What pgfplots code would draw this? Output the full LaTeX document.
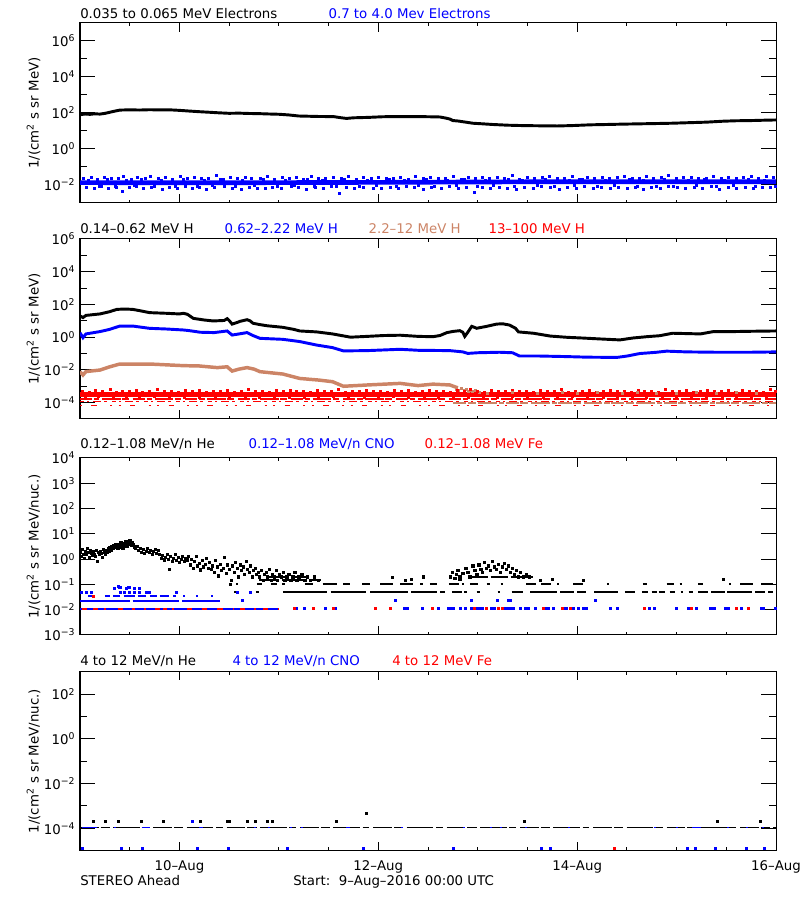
\documentclass[border=0pt]{standalone}
\usepackage{fontspec}
\setmainfont{DejaVu Sans}
\usepackage{pgfplots}
\pgfplotsset{compat=1.18}
\definecolor{hbrown}{RGB}{204,132,102}
\definecolor{iblue}{RGB}{0,0,255}
\definecolor{ired}{RGB}{255,0,0}
\newcommand{\tnn}[1]{10\textsuperscript{#1}}
\pgfplotsset{
  every axis/.append style={
    scale only axis, width=522pt,
    xmin=0, xmax=7,
    xtick={1,3,5,7}, minor xtick={0.5,1.5,2,2.5,3.5,4,4.5,5.5,6,6.5},
    tick align=inside,
    major tick length=11.25pt, minor tick length=5.5pt,
    tick style={black, line width=0.75pt},
    axis line style={line width=0.75pt},
    tick label style={font=\fontsize{10}{12}\selectfont},
    ylabel style={at={(axis description cs:-0.0668,0.5)}, rotate=0, anchor=center, font=\fontsize{10}{12}\selectfont},
    unbounded coords=jump,
  },
  sqdot/.style={only marks, mark=square*, mark size=0.75pt, mark options={draw=none}},
}
\begin{document}
\begin{tikzpicture}
\path[use as bounding box] (0,0) rectangle (600pt,675pt);
% ================= Panel 1
\begin{axis}[at={(60pt,522.75pt)}, anchor=south west, height=135pt,
  ymode=log, ymin=1e-3, ymax=1e7,
  ytick={1e-2,1,1e2,1e4,1e6}, yticklabels={\tnn{−2},\tnn{0},\tnn{2},\tnn{4},\tnn{6}},
  minor ytick={1e-1,1e1,1e3,1e5},
  xticklabels={,,,},
  ylabel={1/(cm\textsuperscript{2} s sr MeV)},
  xtick style={/pgfplots/major tick length=6.5pt,/pgfplots/minor tick length=2.5pt}]
\addplot[black, line width=2.2pt] coordinates {(0,80)(0.05,88)(0.1,84)(0.15,90)(0.2,87)(0.25,95)(0.3,110)(0.33,120)(0.4,145)(0.5,150)(0.6,146)(0.7,152)(0.8,148)(0.9,150)(1.0,140)(1.1,128)(1.2,118)(1.3,110)(1.4,102)(1.5,96)(1.6,98)(1.7,94)(1.8,92)(1.9,88)(2.0,85)(2.1,78)(2.2,68)(2.3,66)(2.4,64)(2.55,63)(2.62,55)(2.68,50)(2.75,54)(2.9,57)(3.05,62)(3.2,63)(3.35,63)(3.5,62)(3.62,60)(3.68,52)(3.72,46)(3.75,38)(3.8,36)(3.88,31)(3.95,27)(4.05,25)(4.15,23)(4.3,21)(4.45,20)(4.6,19.5)(4.8,19)(4.95,20)(5.13,22)(5.3,23)(5.45,24)(5.63,25)(5.8,26)(5.95,27)(6.13,29)(6.3,31)(6.47,35)(6.6,37)(6.75,38)(6.9,40)(7.0,41)};
\addplot[iblue, line width=3.5pt] coordinates {(0,0.0135)(1.5,0.0133)(3,0.0140)(4.5,0.0150)(6,0.0150)(7,0.0152)};
\addplot[sqdot, iblue] coordinates {(0.03,0.024)(0.11,0.026)(0.17,0.022)(0.24,0.028)(0.31,0.023)(0.38,0.025)(0.44,0.030)(0.52,0.022)(0.58,0.027)(0.66,0.024)(0.71,0.029)(0.79,0.023)(0.86,0.026)(0.93,0.022)(1.01,0.031)(1.08,0.024)(1.15,0.027)(1.22,0.023)(1.29,0.025)(1.37,0.034)(1.44,0.022)(1.51,0.026)(1.58,0.024)(1.66,0.028)(1.72,0.023)(1.81,0.025)(1.88,0.030)(1.95,0.022)(2.03,0.027)(2.10,0.024)(2.18,0.026)(2.25,0.022)(2.33,0.029)(2.40,0.025)(2.47,0.023)(2.55,0.027)(2.63,0.024)(2.70,0.031)(2.78,0.022)(2.85,0.026)(2.93,0.024)(3.00,0.028)(3.08,0.023)(3.15,0.025)(3.22,0.027)(3.30,0.022)(3.37,0.029)(3.45,0.024)(3.52,0.026)(3.60,0.023)(3.67,0.025)(3.75,0.030)(3.83,0.022)(3.90,0.027)(3.98,0.024)(4.05,0.026)(4.12,0.023)(4.20,0.028)(4.27,0.025)(4.35,0.033)(4.42,0.022)(4.50,0.027)(4.57,0.024)(4.65,0.026)(4.72,0.029)(4.80,0.023)(4.87,0.025)(4.95,0.031)(5.02,0.022)(5.10,0.027)(5.17,0.024)(5.25,0.028)(5.32,0.023)(5.40,0.026)(5.47,0.030)(5.55,0.024)(5.62,0.025)(5.70,0.029)(5.77,0.023)(5.85,0.027)(5.92,0.034)(6.00,0.024)(6.07,0.026)(6.15,0.028)(6.22,0.023)(6.30,0.025)(6.37,0.030)(6.45,0.024)(6.52,0.027)(6.60,0.023)(6.67,0.026)(6.75,0.029)(6.82,0.025)(6.90,0.031)(6.97,0.028)
(0.06,0.0075)(0.14,0.0068)(0.21,0.0080)(0.28,0.0062)(0.36,0.0078)(0.43,0.0045)(0.50,0.0072)(0.57,0.0080)(0.64,0.0066)(0.72,0.0078)(0.83,0.0058)(0.90,0.0076)(0.98,0.0070)(1.06,0.0080)(1.13,0.0064)(1.20,0.0077)(1.27,0.0060)(1.35,0.0074)(1.45,0.0080)(1.53,0.0066)(1.62,0.0055)(1.70,0.0078)(1.78,0.0070)(1.86,0.0063)(1.93,0.0079)(2.02,0.0068)(2.12,0.0080)(2.20,0.0072)(2.28,0.0061)(2.37,0.0077)(2.45,0.0069)(2.53,0.0080)(2.61,0.0035)(2.68,0.0074)(2.76,0.0066)(2.85,0.0079)(2.95,0.0070)(3.03,0.0062)(3.12,0.0078)(3.20,0.0068)(3.28,0.0080)(3.36,0.0072)(3.45,0.0060)(3.53,0.0076)(3.63,0.0069)(3.71,0.0080)(3.80,0.0063)(3.88,0.0075)(3.97,0.0040)(4.05,0.0078)(4.13,0.0067)(4.22,0.0079)(4.30,0.0070)(4.39,0.0058)(4.47,0.0077)(4.56,0.0066)(4.64,0.0080)(4.73,0.0072)(4.82,0.0061)(4.90,0.0078)(4.99,0.0069)(5.07,0.0080)(5.16,0.0063)(5.24,0.0076)(5.33,0.0070)(5.41,0.0079)(5.50,0.0065)(5.58,0.0077)(5.67,0.0059)(5.75,0.0078)(5.84,0.0068)(5.92,0.0080)(6.01,0.0071)(6.09,0.0062)(6.18,0.0078)(6.26,0.0069)(6.35,0.0080)(6.43,0.0060)(6.52,0.0077)(6.60,0.0070)(6.69,0.0079)(6.77,0.0064)(6.86,0.0078)(6.94,0.0071)
(0.08,0.019)(0.19,0.0088)(0.27,0.020)(0.35,0.009)(0.47,0.0185)(0.55,0.0092)(0.62,0.021)(0.75,0.0087)(0.82,0.0195)(0.96,0.009)(1.04,0.0205)(1.18,0.0088)(1.25,0.019)(1.33,0.0094)(1.41,0.021)(1.56,0.0089)(1.63,0.0185)(1.75,0.0091)(1.84,0.020)(1.98,0.0087)(2.06,0.0195)(2.15,0.0093)(2.29,0.021)(2.36,0.0088)(2.44,0.019)(2.58,0.009)(2.66,0.0205)(2.81,0.0089)(2.89,0.0185)(2.98,0.0092)(3.11,0.020)(3.18,0.0087)(3.26,0.0195)(3.4,0.0091)(3.48,0.021)(3.56,0.0088)(3.69,0.019)(3.78,0.0093)(3.86,0.0205)(4.0,0.0089)(4.08,0.0185)(4.16,0.0092)(4.31,0.021)(4.37,0.0087)(4.45,0.0195)(4.6,0.0091)(4.68,0.020)(4.77,0.0088)(4.92,0.019)(4.97,0.0094)(5.05,0.0205)(5.2,0.0089)(5.28,0.0185)(5.37,0.0092)(5.52,0.021)(5.6,0.0087)(5.66,0.0195)(5.8,0.009)(5.88,0.020)(5.97,0.0088)(6.12,0.019)(6.2,0.0093)(6.28,0.0205)(6.4,0.0089)(6.48,0.0185)(6.57,0.0092)(6.72,0.021)(6.79,0.0087)(6.88,0.0195)(6.99,0.009)};
\end{axis}
% ================= Panel 2
\begin{axis}[at={(60pt,360.75pt)}, anchor=south west, height=135pt,
  ymode=log, ymin=1e-5, ymax=1e6,
  ytick={1e-4,1e-2,1,1e2,1e4,1e6}, yticklabels={\tnn{−4},\tnn{−2},\tnn{0},\tnn{2},\tnn{4},\tnn{6}},
  minor ytick={1e-3,1e-1,1e1,1e3,1e5},
  xticklabels={,,,},
  ylabel={1/(cm\textsuperscript{2} s sr MeV)},
  xtick style={/pgfplots/major tick length=6.5pt,/pgfplots/minor tick length=2.5pt}]
\addplot[black, line width=2.2pt] coordinates {(0,20)(0.03,15.8)(0.06,21.4)(0.2,26.3)(0.3,36.3)(0.37,50)(0.45,52.5)(0.53,50)(0.6,41.7)(0.7,31.6)(0.87,28.8)(1.0,26.3)(1.04,28.8)(1.08,25.1)(1.14,14.1)(1.25,11.2)(1.34,9.8)(1.45,10.5)(1.48,13.5)(1.5,10.5)(1.53,6.3)(1.58,7.9)(1.61,9.3)(1.68,11.7)(1.71,10)(1.74,7.1)(1.8,6.0)(1.88,5.0)(2.04,4.0)(2.15,3.0)(2.21,2.4)(2.38,2.1)(2.54,1.58)(2.72,1.0)(2.89,1.12)(3.05,1.26)(3.22,1.32)(3.4,1.12)(3.55,1.07)(3.62,1.26)(3.69,1.9)(3.75,2.24)(3.82,2.5)(3.85,2.0)(3.87,1.12)(3.9,2.0)(3.94,4.6)(3.99,3.5)(4.09,4.6)(4.19,6.3)(4.25,6.6)(4.32,5.5)(4.38,3.5)(4.41,2.1)(4.56,1.74)(4.73,1.17)(4.9,0.98)(5.05,0.89)(5.23,0.78)(5.43,0.68)(5.56,0.89)(5.7,1.07)(5.83,1.23)(5.96,1.74)(6.1,1.66)(6.24,1.58)(6.37,2.19)(6.55,2.19)(6.74,2.29)(7,2.4)};
\addplot[iblue, line width=2.2pt] coordinates {(0,1.86)(0.03,0.93)(0.06,1.58)(0.2,2.19)(0.3,3.02)(0.4,4.79)(0.53,4.79)(0.7,3.47)(0.87,3.16)(1.04,2.75)(1.1,2.51)(1.21,2.0)(1.35,1.91)(1.48,2.4)(1.53,1.35)(1.6,1.58)(1.68,1.91)(1.74,1.26)(1.81,0.85)(2.04,0.74)(2.21,0.54)(2.38,0.33)(2.54,0.23)(2.65,0.145)(2.89,0.151)(3.22,0.182)(3.4,0.158)(3.72,0.151)(3.85,0.126)(3.9,0.102)(4.0,0.112)(4.22,0.12)(4.35,0.112)(4.42,0.071)(4.6,0.071)(4.9,0.065)(5.1,0.06)(5.4,0.058)(5.5,0.07)(5.63,0.1)(5.8,0.12)(5.9,0.14)(6.1,0.126)(6.4,0.12)(6.74,0.12)(7,0.126)};
\addplot[hbrown, line width=2.6pt] coordinates {(0,0.0078)(0.03,0.0049)(0.06,0.0079)(0.2,0.0098)(0.3,0.0155)(0.4,0.0229)(0.7,0.0229)(1.04,0.0182)(1.2,0.0174)(1.38,0.0138)(1.48,0.0155)(1.53,0.0085)(1.6,0.0112)(1.68,0.0138)(1.75,0.0112)(1.81,0.0078)(2.04,0.0056)(2.21,0.003)(2.4,0.0024)(2.54,0.0019)(2.65,0.001)(2.89,0.0012)(3.22,0.0015)(3.4,0.0011)(3.55,0.00135)(3.72,0.0012)(3.8,0.0008)};
\addplot[sqdot, hbrown] coordinates {(3.78,7e-4)(3.8,6e-4)(3.83,7.5e-4)(3.86,5.5e-4)(3.88,6.5e-4)(3.9,5e-4)(3.93,6e-4)(3.95,4.8e-4)(3.98,5.5e-4)(4.02,4.5e-4)};
\addplot[hbrown, line width=1.5pt, dash pattern=on 10pt off 1pt on 6pt off 2pt on 14pt off 1.5pt on 4pt off 1pt] coordinates {(3.75,9e-5)(7,9e-5)};
\addplot[ired, line width=3.3pt] coordinates {(0,3.15e-4)(7,3.15e-4)};
\addplot[sqdot, ired] coordinates {(0.02,5.0e-4)(0.09,4.6e-4)(0.15,5.5e-4)(0.22,4.8e-4)(0.3,6.2e-4)(0.36,4.5e-4)(0.43,5.2e-4)(0.5,4.7e-4)(0.57,5.8e-4)(0.63,4.6e-4)(0.7,5.0e-4)(0.78,6.5e-4)(0.85,4.8e-4)(0.92,5.3e-4)(0.99,4.5e-4)(1.06,5.6e-4)(1.13,4.9e-4)(1.2,6.0e-4)(1.27,4.6e-4)(1.34,5.1e-4)(1.41,4.7e-4)(1.48,5.7e-4)(1.55,4.5e-4)(1.62,5.2e-4)(1.69,6.3e-4)(1.76,4.8e-4)(1.83,5.0e-4)(1.9,4.6e-4)(1.97,5.5e-4)(2.04,4.7e-4)(2.11,6.0e-4)(2.18,4.9e-4)(2.25,5.3e-4)(2.32,4.5e-4)(2.39,5.8e-4)(2.46,4.8e-4)(2.53,5.1e-4)(2.6,6.6e-4)(2.67,4.6e-4)(2.74,5.0e-4)(2.81,4.7e-4)(2.88,5.6e-4)(2.95,4.9e-4)(3.02,5.2e-4)(3.09,4.5e-4)(3.16,6.1e-4)(3.23,4.8e-4)(3.3,5.4e-4)(3.37,4.6e-4)(3.44,5.0e-4)(3.51,5.9e-4)(3.58,4.7e-4)(3.65,5.3e-4)(3.72,4.5e-4)(3.79,5.6e-4)(3.86,4.8e-4)(3.93,6.3e-4)(4.0,5.0e-4)(4.07,4.6e-4)(4.14,5.5e-4)(4.21,4.9e-4)(4.28,5.2e-4)(4.35,6.0e-4)(4.42,4.7e-4)(4.49,5.1e-4)(4.56,4.5e-4)(4.63,5.7e-4)(4.7,4.8e-4)(4.77,5.3e-4)(4.84,6.7e-4)(4.91,4.6e-4)(4.98,5.0e-4)(5.05,4.8e-4)(5.12,5.5e-4)(5.19,4.6e-4)(5.26,5.2e-4)(5.33,6.0e-4)(5.4,4.7e-4)(5.47,5.0e-4)(5.54,4.5e-4)(5.61,5.8e-4)(5.68,4.9e-4)(5.75,5.3e-4)(5.82,4.6e-4)(5.89,6.4e-4)(5.96,5.0e-4)(6.03,4.8e-4)(6.1,5.6e-4)(6.17,4.5e-4)(6.24,5.2e-4)(6.31,6.1e-4)(6.38,4.7e-4)(6.45,5.0e-4)(6.52,5.5e-4)(6.59,4.6e-4)(6.66,5.9e-4)(6.73,4.8e-4)(6.8,5.3e-4)(6.87,4.5e-4)(6.94,6.2e-4)(6.99,5.0e-4)
(0.05,2.1e-4)(0.18,2.3e-4)(0.33,2.0e-4)(0.47,2.2e-4)(0.6,2.1e-4)(0.75,2.3e-4)(0.9,2.0e-4)(1.05,2.2e-4)(1.2,2.1e-4)(1.36,2.3e-4)(1.5,2.0e-4)(1.66,2.2e-4)(1.8,2.1e-4)(1.95,2.3e-4)(2.1,2.0e-4)(2.26,2.2e-4)(2.4,2.1e-4)(2.55,2.3e-4)(2.7,2.0e-4)(2.86,2.2e-4)(3.0,2.1e-4)(3.15,2.3e-4)(3.3,2.0e-4)(3.46,2.2e-4)(3.6,2.1e-4)(3.75,2.3e-4)(3.9,2.0e-4)(4.06,2.2e-4)(4.2,2.1e-4)(4.35,2.3e-4)(4.5,2.0e-4)(4.66,2.2e-4)(4.8,2.1e-4)(4.95,2.3e-4)(5.1,2.0e-4)(5.26,2.2e-4)(5.4,2.1e-4)(5.55,2.3e-4)(5.7,2.0e-4)(5.86,2.2e-4)(6.0,2.1e-4)(6.15,2.3e-4)(6.3,2.0e-4)(6.46,2.2e-4)(6.6,2.1e-4)(6.75,2.3e-4)(6.9,2.0e-4)};
\addplot[sqdot, hbrown] coordinates {(4.1,3.8e-4)(4.35,4.2e-4)(4.6,3.6e-4)(4.85,4.4e-4)(5.0,3.9e-4)(5.2,4.1e-4)(5.45,3.7e-4)(5.6,4.3e-4)(5.8,3.8e-4)(6.0,4.0e-4)(6.2,4.4e-4)(6.4,3.6e-4)(6.6,4.2e-4)(6.8,3.9e-4)};
\addplot[ired, line width=1.1pt, dash pattern=on 9pt off 1.5pt on 4pt off 2pt on 14pt off 1pt on 5pt off 3pt] coordinates {(0,1.66e-4)(7,1.66e-4)};
\addplot[ired, line width=1pt, dash pattern=on 3pt off 2.5pt on 1.5pt off 3pt on 6pt off 2pt on 2pt off 4pt] coordinates {(0,1.12e-4)(7,1.12e-4)};
\addplot[ired, line width=1pt, dash pattern=on 1.5pt off 7pt on 4pt off 10pt on 1.5pt off 5pt] coordinates {(0,6.5e-5)(7,6.5e-5)};
\end{axis}
% ================= Panel 3
\begin{axis}[at={(60pt,198.75pt)}, anchor=south west, height=132.75pt,
  ymode=log, ymin=1e-3, ymax=1e4,
  ytick={1e-3,1e-2,1e-1,1,1e1,1e2,1e3,1e4}, yticklabels={\tnn{−3},\tnn{−2},\tnn{−1},\tnn{0},\tnn{1},\tnn{2},\tnn{3},\tnn{4}},
  minor ytick={5e-3},
  xticklabels={,,,},
  ylabel={1/(cm\textsuperscript{2} s sr MeV/nuc.)},
  xtick style={/pgfplots/major tick length=6.5pt,/pgfplots/minor tick length=2.5pt},
  minor y tick style={draw=none}]
\addplot[sqdot, black, mark size=0.8pt] coordinates {(0.00,1.9)(0.01,1.3)(0.02,2.4)(0.03,1.6)(0.04,1.1)(0.05,2.0)(0.06,1.5)(0.07,2.6)(0.08,1.8)(0.09,1.2)(0.10,2.2)(0.11,1.7)(0.12,1.4)(0.13,2.0)(0.14,1.6)(0.15,1.3)(0.16,2.3)(0.17,0.85)(0.18,1.8)(0.19,1.5)(0.20,2.1)(0.21,1.7)(0.22,1.2)(0.23,2.5)(0.24,1.9)(0.25,1.6)(0.26,2.2)(0.27,1.8)(0.28,2.6)(0.29,2.0)(0.30,2.9)(0.31,2.3)(0.32,3.1)(0.33,2.7)(0.34,3.5)(0.35,2.9)(0.36,4.0)(0.37,3.2)(0.38,2.6)(0.39,3.8)(0.40,3.0)(0.41,4.5)(0.42,3.4)(0.43,2.8)(0.44,4.1)(0.45,3.6)(0.46,5.0)(0.47,3.3)(0.48,4.4)(0.49,3.9)(0.50,5.6)(0.51,4.2)(0.52,3.5)(0.53,4.8)(0.54,3.7)(0.55,3.1)(0.56,2.6)(0.58,3.2)(0.59,2.2)(0.61,2.8)(0.62,1.9)(0.64,2.4)(0.65,1.7)(0.67,2.1)(0.68,2.7)(0.70,1.8)(0.71,2.3)(0.73,1.6)(0.74,2.0)(0.76,2.5)(0.77,1.7)(0.79,2.2)(0.80,1.5)(0.82,1.1)(0.83,1.4)(0.85,0.95)(0.86,1.2)(0.88,1.6)(0.89,1.0)(0.90,0.40)(0.91,1.3)(0.93,0.85)(0.94,1.1)(0.96,1.5)(0.97,0.9)(0.99,1.2)(1.00,0.75)(1.02,1.0)(1.03,1.35)(1.05,0.8)(1.06,1.1)(1.08,0.95)(1.09,1.25)(1.11,0.6)(1.12,1.0)(1.14,0.45)(1.15,0.8)(1.17,1.3)(1.18,0.55)(1.20,0.7)(1.21,0.38)(1.23,0.9)(1.24,0.5)(1.26,0.65)(1.27,1.1)(1.29,0.42)(1.30,0.75)(1.32,0.4)(1.33,0.55)(1.35,0.3)(1.36,0.9)(1.38,0.5)(1.39,0.22)(1.41,0.65)(1.42,0.35)(1.44,0.45)(1.45,1.15)(1.47,0.28)(1.48,0.6)(1.50,0.4)(1.51,0.1)(1.52,0.15)(1.53,0.55)(1.55,0.3)(1.56,0.75)(1.58,0.45)(1.59,0.2)(1.61,0.6)(1.62,0.35)(1.64,0.5)(1.65,0.25)(1.67,0.85)(1.68,0.4)(1.70,0.3)(1.71,0.55)(1.73,0.2)(1.74,0.35)(1.76,0.45)(1.77,0.25)(1.79,0.3)(1.80,0.2)(1.82,0.35)(1.84,0.15)(1.85,0.25)(1.87,0.3)(1.88,0.2)(1.90,0.4)(1.92,0.15)(1.93,0.25)(1.95,0.2)(1.97,0.35)(1.98,0.15)(2.00,0.25)(2.02,0.2)(2.04,0.3)(2.06,0.15)(2.08,0.2)(2.10,0.25)(2.12,0.15)(2.14,0.2)(2.16,0.3)(2.18,0.15)(2.20,0.2)(2.23,0.25)(2.26,0.15)(2.29,0.2)(2.32,0.15)(2.36,0.2)(2.40,0.15)
(3.14,0.19)(3.27,0.15)(3.33,0.16)(3.45,0.2)(3.77,0.18)(3.82,0.16)(4.63,0.15)(4.75,0.16)(5.06,0.15)(6.47,0.16)
(3.72,0.2)(3.74,0.3)(3.76,0.18)(3.78,0.25)(3.80,0.35)(3.82,0.2)(3.85,0.28)(3.88,0.45)(3.90,0.3)(3.92,0.2)(3.95,0.55)(3.97,0.35)(3.99,0.25)(4.01,0.6)(4.03,0.4)(4.05,0.3)(4.07,0.75)(4.09,0.45)(4.11,0.55)(4.13,0.35)(4.15,0.85)(4.17,0.5)(4.19,0.4)(4.21,0.65)(4.23,0.3)(4.25,0.5)(4.27,0.7)(4.29,0.4)(4.31,0.55)(4.33,0.3)(4.35,0.45)(4.37,0.25)(4.39,0.35)(4.41,0.2)(4.43,0.3)(4.46,0.2)(4.49,0.25)(4.52,0.2)};
\addplot[black, line width=1.5pt] coordinates {(1.8,0.15)(2.0,0.15)(2.01,nan)(2.03,0.15)(2.25,0.15)(2.26,nan)(2.3,0.15)(2.42,0.15)(2.43,nan)(1.9,0.2)(2.1,0.2)(2.11,nan)(2.13,0.2)(2.3,0.2)(2.31,nan)(3.92,0.2)(4.1,0.2)(4.11,nan)(4.13,0.2)(4.3,0.2)(4.31,nan)(4.33,0.2)(4.56,0.2)};
\addplot[black, line width=1.5pt] coordinates {(1.57,0.1)(1.59,0.1)(1.60,nan)(1.78,0.1)(1.83,0.1)(1.84,nan)(1.92,0.1)(1.98,0.1)(1.99,nan)(2.03,0.1)(2.06,0.1)(2.07,nan)(2.26,0.1)(2.34,0.1)(2.35,nan)(2.44,0.1)(2.58,0.1)(2.59,nan)(2.65,0.1)(2.72,0.1)(2.73,nan)(2.84,0.1)(2.92,0.1)(2.93,nan)(3.02,0.1)(3.15,0.1)(3.16,nan)(3.22,0.1)(3.35,0.1)(3.36,nan)(3.42,0.1)(3.45,0.1)(3.46,nan)(3.52,0.1)(3.59,0.1)(3.60,nan)(3.71,0.1)(3.81,0.1)(3.82,nan)(3.84,0.1)(3.86,0.1)(3.87,nan)(3.92,0.1)(4.0,0.1)(4.01,nan)(4.09,0.1)(4.12,0.1)(4.13,nan)(4.23,0.1)(4.25,0.1)(4.26,nan)(4.49,0.1)(4.59,0.1)(4.60,nan)(4.64,0.1)(4.74,0.1)(4.75,nan)(4.80,0.1)(4.82,0.1)(4.83,nan)(4.96,0.1)(5.06,0.1)(5.07,nan)(5.30,0.1)(5.32,0.1)(5.33,nan)(5.66,0.1)(5.70,0.1)(5.71,nan)(5.90,0.1)(5.97,0.1)(5.98,nan)(6.03,0.1)(6.05,0.1)(6.06,nan)(6.22,0.1)(6.27,0.1)(6.28,nan)(6.53,0.1)(6.55,0.1)(6.56,nan)(6.64,0.1)(6.77,0.1)(6.78,nan)(6.85,0.1)(6.97,0.1)};
\addplot[black, line width=1.5pt] coordinates {(1.55,0.052)(1.57,0.052)(1.58,nan)(1.77,0.052)(1.80,0.052)(1.81,nan)(2.04,0.052)(2.48,0.052)(2.50,nan)(2.52,0.052)(2.88,0.052)(2.90,nan)(2.92,0.052)(3.30,0.052)(3.32,nan)(3.33,0.052)(3.59,0.052)(3.61,nan)(3.62,0.052)(3.67,0.052)(3.69,nan)(3.74,0.052)(3.84,0.052)(3.85,nan)(3.86,0.052)(3.89,0.052)(3.91,nan)(3.99,0.052)(4.02,0.052)(4.03,nan)(4.20,0.052)(4.22,0.052)(4.23,nan)(4.34,0.052)(4.46,0.052)(4.48,nan)(4.53,0.052)(4.80,0.052)(4.81,nan)(4.83,0.052)(4.97,0.052)(4.98,nan)(5.00,0.052)(5.09,0.052)(5.10,nan)(5.17,0.052)(5.41,0.052)(5.43,nan)(5.48,0.052)(5.58,0.052)(5.60,nan)(5.65,0.052)(5.71,0.052)(5.72,nan)(5.75,0.052)(5.80,0.052)(5.81,nan)(5.82,0.052)(5.88,0.052)(5.90,nan)(5.93,0.052)(5.98,0.052)(6.00,nan)(6.04,0.052)(6.06,0.052)(6.07,nan)(6.12,0.052)(6.17,0.052)(6.19,nan)(6.22,0.052)(6.32,0.052)(6.33,nan)(6.35,0.052)(6.49,0.052)(6.50,nan)(6.51,0.052)(6.76,0.052)(6.78,nan)(6.79,0.052)(6.89,0.052)(6.91,nan)(6.92,0.052)(6.97,0.052)};
\addplot[iblue, line width=1.5pt] coordinates {(0,0.011)(2.0,0.011)};
\addplot[iblue, line width=1.5pt] coordinates {(0,0.023)(0.5,0.023)(0.52,nan)(0.53,0.023)(1.0,0.023)(1.02,nan)(1.03,0.023)(1.41,0.023)};
\addplot[iblue, line width=1.5pt] coordinates {(0.08,0.035)(0.13,0.035)(0.14,nan)(0.25,0.035)(0.3,0.035)(0.31,nan)(0.33,0.035)(0.4,0.035)(0.41,nan)(0.44,0.035)(0.55,0.035)(0.56,nan)(0.58,0.035)(0.66,0.035)(0.67,nan)(0.7,0.035)(0.77,0.035)(0.78,nan)(0.8,0.035)(0.9,0.035)(0.91,nan)(0.94,0.035)(0.97,0.035)(0.98,nan)(1.04,0.035)(1.06,0.035)(1.07,nan)(1.17,0.035)(1.19,0.035)(1.20,nan)(1.32,0.035)(1.34,0.035)};
\addplot[sqdot, iblue] coordinates {(0.017,0.048)(0.067,0.048)(0.117,0.048)(0.4,0.048)(0.45,0.048)(0.5,0.048)(0.55,0.048)(0.6,0.048)(0.67,0.048)(0.7,0.048)(0.97,0.048)(1.58,0.048)(1.71,0.048)
(0.34,0.07)(0.38,0.085)(0.39,0.075)(0.41,0.08)(0.47,0.07)(0.49,0.075)(0.5,0.08)(0.55,0.07)(0.6,0.07)
(1.63,0.023)(3.17,0.023)(3.94,0.023)(4.20,0.023)(4.31,0.023)(4.33,0.023)(5.18,0.023)
(2.18,0.011)(2.26,0.011)(2.47,0.011)(2.57,0.011)(3.26,0.011)(3.29,0.011)(3.44,0.011)(3.60,0.011)(3.70,0.011)(3.72,0.011)(3.75,0.011)(3.82,0.011)(3.87,0.011)(3.94,0.011)(3.99,0.011)(4.02,0.011)(4.05,0.011)(4.14,0.011)(4.17,0.011)(4.27,0.011)(4.30,0.011)(4.33,0.011)(4.36,0.011)(4.43,0.011)(4.48,0.011)(4.51,0.011)(4.58,0.011)(4.68,0.011)(4.71,0.011)(4.76,0.011)(4.86,0.011)(4.89,0.011)(4.96,0.011)(5.01,0.011)(5.06,0.011)(5.09,0.011)(5.33,0.011)(5.40,0.011)(5.73,0.011)(5.78,0.011)(6.0,0.011)(6.12,0.011)(6.20,0.011)(6.34,0.011)(6.36,0.011)(6.38,0.011)(6.49,0.011)(6.52,0.011)(6.65,0.011)(6.85,0.011)(6.87,0.011)(6.99,0.011)};
\addplot[ired, line width=1.5pt] coordinates {(0.017,0.011)(0.067,0.011)(0.07,nan)(0.134,0.011)(0.184,0.011)(0.19,nan)(0.24,0.011)(0.26,0.011)(0.27,nan)(0.385,0.011)(0.436,0.011)(0.44,nan)(0.52,0.011)(0.553,0.011)(0.56,nan)(0.645,0.011)(0.66,0.011)(0.67,nan)(0.754,0.011)(0.805,0.011)(0.81,nan)(0.838,0.011)(0.872,0.011)(0.88,nan)(0.93,0.011)(0.945,0.011)(0.95,nan)(1.073,0.011)(1.123,0.011)(1.13,nan)(1.224,0.011)(1.274,0.011)(1.28,nan)(1.375,0.011)(1.441,0.011)(1.45,nan)(1.535,0.011)(1.55,0.011)(1.56,nan)(1.609,0.011)(1.659,0.011)(1.67,nan)(1.755,0.011)(1.77,0.011)(1.78,nan)(1.844,0.011)(1.894,0.011)(1.90,nan)(1.99,0.011)(2.0,0.011)};
\addplot[sqdot, ired] coordinates {(0.13,0.035)(2.15,0.011)(2.35,0.011)(2.55,0.011)(2.97,0.011)(3.12,0.011)(3.54,0.011)(3.97,0.011)(4.09,0.011)(4.21,0.011)(4.25,0.011)(4.66,0.011)(4.85,0.011)(4.93,0.011)(5.68,0.011)(6.15,0.011)(6.60,0.011)(6.72,0.011)};
\end{axis}
% ================= Panel 4
\begin{axis}[at={(60pt,36.98pt)}, anchor=south west, height=134.25pt,
  ymode=log, ymin=1e-5, ymax=1e3,
  ytick={1e-4,1e-2,1,1e2}, yticklabels={\tnn{−4},\tnn{−2},\tnn{0},\tnn{2}},
  minor ytick={1e-3,1e-1,1e1},
  xticklabels={10–Aug,12–Aug,14–Aug,16–Aug},
  xticklabel style={anchor=base, yshift=-15pt, inner sep=0pt},
  ylabel={1/(cm\textsuperscript{2} s sr MeV/nuc.)},
  xtick style={/pgfplots/major tick length=6.5pt,/pgfplots/minor tick length=2.5pt}]
\addplot[black, line width=1pt, dash pattern=on 14pt off 1.5pt on 7pt off 2.5pt on 20pt off 2pt on 5pt off 3pt] coordinates {(0,1.1e-4)(7,1.1e-4)};
\addplot[iblue, line width=1pt] coordinates {(0.017,1.1e-4)(0.17,1.1e-4)(0.18,nan)(0.34,1.1e-4)(0.36,1.1e-4)(0.37,nan)(0.62,1.1e-4)(0.7,1.1e-4)(0.71,nan)(1.2,1.1e-4)(1.24,1.1e-4)(1.25,nan)(1.75,1.1e-4)(1.77,1.1e-4)(1.78,nan)(1.89,1.1e-4)(1.91,1.1e-4)(1.92,nan)(2.11,1.1e-4)(2.13,1.1e-4)(2.14,nan)(2.22,1.1e-4)(2.24,1.1e-4)(2.25,nan)(2.68,1.1e-4)(2.72,1.1e-4)(2.73,nan)(3.23,1.1e-4)(3.25,1.1e-4)(3.26,nan)(3.85,1.1e-4)(3.87,1.1e-4)(3.88,nan)(4.12,1.1e-4)(4.14,1.1e-4)(4.15,nan)(4.22,1.1e-4)(4.24,1.1e-4)(4.25,nan)(4.48,1.1e-4)(4.5,1.1e-4)(4.51,nan)(4.91,1.1e-4)(4.93,1.1e-4)(4.94,nan)(5.77,1.1e-4)(5.79,1.1e-4)(5.8,nan)(5.99,1.1e-4)(6.01,1.1e-4)(6.02,nan)(6.16,1.1e-4)(6.25,1.1e-4)(6.26,nan)(6.51,1.1e-4)(6.53,1.1e-4)(6.54,nan)(6.7,1.1e-4)(6.72,1.1e-4)(6.73,nan)(6.86,1.1e-4)(6.88,1.1e-4)};
\addplot[sqdot, black] coordinates {(0.13,2.1e-4)(0.25,2.1e-4)(0.38,2.1e-4)(0.62,2.1e-4)(0.84,2.1e-4)(1.21,2.1e-4)(1.48,2.1e-4)(1.50,2.1e-4)(1.68,2.1e-4)(1.76,2.1e-4)(1.88,2.1e-4)(1.93,2.1e-4)(2.58,2.1e-4)(4.47,2.1e-4)(6.41,2.1e-4)(6.84,2.1e-4)(2.88,4.8e-4)};
\addplot[sqdot, iblue] coordinates {(1.13,2.1e-4)(0.02,1.3e-5)(0.42,1.3e-5)(0.63,1.3e-5)(1.18,1.3e-5)(1.49,1.3e-5)(2.08,1.3e-5)(2.85,1.3e-5)(3.75,1.3e-5)(4.64,1.3e-5)(4.73,1.3e-5)(6.11,1.3e-5)(6.19,1.3e-5)(6.39,1.3e-5)(6.7,1.3e-5)(6.88,1.3e-5)};
\addplot[sqdot, ired] coordinates {(5.37,1.3e-5)};
\end{axis}
% ================= Titles
\begin{scope}[every node/.style={anchor=base west, inner sep=0pt, font=\fontsize{10}{12}\selectfont}]
\node at (60pt,661.3pt) {0.035 to 0.065 MeV Electrons};
\node[text=iblue] at (246.2pt,661.3pt) {0.7 to 4.0 Mev Electrons};
\node at (60pt,500pt) {0.14–0.62 MeV H};
\node[text=iblue] at (168.2pt,500pt) {0.62–2.22 MeV H};
\node[text=hbrown] at (276.2pt,500pt) {2.2–12 MeV H};
\node[text=ired] at (366.2pt,500pt) {13–100 MeV H};
\node at (60pt,338.25pt) {0.12–1.08 MeV/n He};
\node[text=iblue] at (186.2pt,338.25pt) {0.12–1.08 MeV/n CNO};
\node[text=ired] at (318.2pt,338.25pt) {0.12–1.08 MeV Fe};
\node at (60pt,175.5pt) {4 to 12 MeV/n He};
\node[text=iblue] at (174.2pt,175.5pt) {4 to 12 MeV/n CNO};
\node[text=ired] at (294pt,175.5pt) {4 to 12 MeV Fe};
\node at (60pt,11pt) {STEREO Ahead};
\node at (219.75pt,11pt) {Start:\ \ 9–Aug–2016 00:00 UTC};
\end{scope}
\end{tikzpicture}
\end{document}
